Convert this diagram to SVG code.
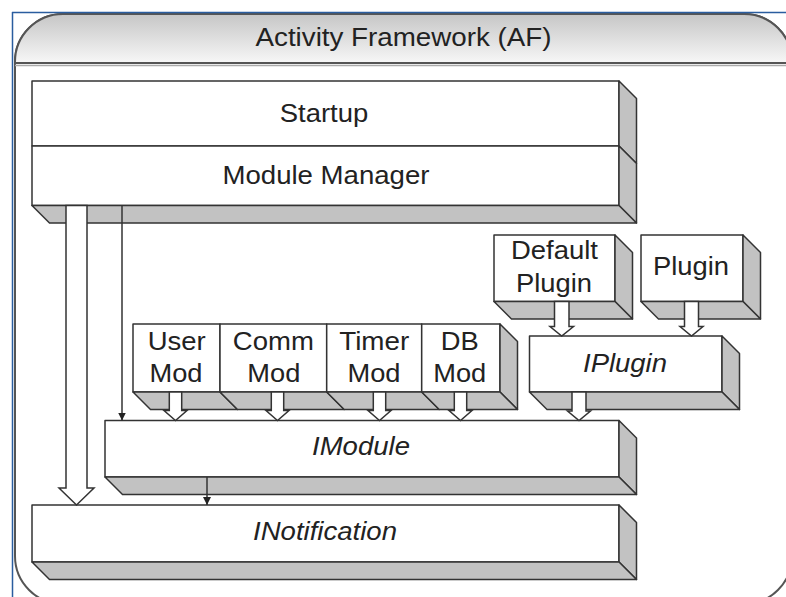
<svg xmlns="http://www.w3.org/2000/svg" width="786" height="597" viewBox="0 0 786 597">
<style>
.t{font-family:"Liberation Sans",Arial,sans-serif;font-size:25px;fill:#222;text-anchor:middle}
.i{font-style:italic}
.front{fill:#fff;stroke:#333;stroke-width:1.5;stroke-linejoin:round}
.side{fill:#c2c2c2;stroke:#333;stroke-width:1.5;stroke-linejoin:round}
.harrow{fill:#fff;stroke:#333;stroke-width:1.5;stroke-linejoin:miter}
.thin{stroke:#333;stroke-width:1.5;fill:none}
.edge{stroke:#333;stroke-width:1.5;fill:none}
</style>
<defs>
<linearGradient id="hdr" x1="0" y1="0" x2="0" y2="1">
<stop offset="0" stop-color="#c6c6c6"/>
<stop offset="1" stop-color="#f7f7f7"/>
</linearGradient>
<marker id="ah" viewBox="0 0 8 8" refX="8" refY="4" markerWidth="8" markerHeight="8" markerUnits="userSpaceOnUse" orient="auto">
<path d="M0,0 L8,4 L0,8 Z" fill="#222"/>
</marker>
</defs>
<rect width="786" height="597" fill="#fff"/>
<g id="frame">
<rect x="15" y="14" width="777" height="590" rx="48" ry="48" fill="#fff" stroke="#555" stroke-width="2"/>
<path d="M15,63 L15,62 A48,48 0 0 1 63,14 L744,14 A48,48 0 0 1 792,62 L792,63 Z" fill="url(#hdr)" stroke="#555" stroke-width="2"/>
<line x1="15" y1="65.5" x2="792" y2="65.5" stroke="#aaa" stroke-width="1.5"/>
<text class="t" x="403.5" y="46" textLength="296" lengthAdjust="spacingAndGlyphs">Activity Framework (AF)</text>
</g>
<g id="startup">
<rect class="front" x="32" y="81" width="587" height="65"/>
<polygon class="side" points="619,81 636.5,98.5 636.5,163.5 619,146"/>
<text class="t" x="324" y="121.5" textLength="88.5" lengthAdjust="spacingAndGlyphs">Startup</text>
</g>
<g id="module-manager">
<rect class="front" x="32" y="146" width="587" height="59.5"/>
<polygon class="side" points="619,146 636.5,163.5 636.5,223 619,205.5"/>
<polygon class="side" points="32,205.5 619,205.5 636.5,223 49.5,223"/>
<text class="t" x="326" y="184" textLength="207" lengthAdjust="spacingAndGlyphs">Module Manager</text>
</g>
<g id="default-plugin">
<rect class="front" x="494" y="235" width="121" height="66.5"/>
<polygon class="side" points="615,235 632.5,252.5 632.5,319 615,301.5"/>
<polygon class="side" points="494,301.5 615,301.5 632.5,319 511.5,319"/>
<text class="t" x="554.5" y="258.5" textLength="87" lengthAdjust="spacingAndGlyphs">Default</text>
<text class="t" x="554" y="291.5" textLength="76" lengthAdjust="spacingAndGlyphs">Plugin</text>
</g>
<g id="plugin">
<rect class="front" x="641" y="235" width="102" height="66.5"/>
<polygon class="side" points="743,235 760.5,252.5 760.5,319 743,301.5"/>
<polygon class="side" points="641,301.5 743,301.5 760.5,319 658.5,319"/>
<text class="t" x="691" y="275" textLength="76" lengthAdjust="spacingAndGlyphs">Plugin</text>
</g>
<g id="iplugin">
<rect class="front" x="529.5" y="336" width="192.5" height="56"/>
<polygon class="side" points="722,336 739.5,353.5 739.5,409.5 722,392"/>
<polygon class="side" points="529.5,392 722,392 739.5,409.5 547,409.5"/>
<text class="t i" x="625" y="371.5" textLength="84" lengthAdjust="spacingAndGlyphs">IPlugin</text>
</g>
<g id="user-mod">
<rect class="front" x="133" y="324" width="87" height="68"/>
<polygon class="side" points="133,392 220,392 237.5,409.5 150.5,409.5"/>
<text class="t" x="176.7" y="349.5" textLength="58" lengthAdjust="spacingAndGlyphs">User</text>
<text class="t" x="176" y="381.5" textLength="53" lengthAdjust="spacingAndGlyphs">Mod</text>
</g>
<g id="comm-mod">
<rect class="front" x="220" y="324" width="106.7" height="68"/>
<polygon class="side" points="220,392 326.7,392 344.2,409.5 237.5,409.5"/>
<text class="t" x="273.3" y="349.5" textLength="81" lengthAdjust="spacingAndGlyphs">Comm</text>
<text class="t" x="273.8" y="381.5" textLength="53" lengthAdjust="spacingAndGlyphs">Mod</text>
</g>
<g id="timer-mod">
<rect class="front" x="326.7" y="324" width="95" height="68"/>
<polygon class="side" points="326.7,392 421.7,392 439.2,409.5 344.2,409.5"/>
<text class="t" x="374.2" y="349.5" textLength="70" lengthAdjust="spacingAndGlyphs">Timer</text>
<text class="t" x="374" y="381.5" textLength="53" lengthAdjust="spacingAndGlyphs">Mod</text>
</g>
<g id="db-mod">
<rect class="front" x="421.7" y="324" width="78.3" height="68"/>
<polygon class="side" points="500,324 517.5,341.5 517.5,409.5 500,392"/>
<polygon class="side" points="421.7,392 500,392 517.5,409.5 439.2,409.5"/>
<text class="t" x="459.7" y="349.5" textLength="38" lengthAdjust="spacingAndGlyphs">DB</text>
<text class="t" x="459.7" y="381.5" textLength="53" lengthAdjust="spacingAndGlyphs">Mod</text>
</g>
<g id="imodule">
<rect class="front" x="105" y="420.5" width="514" height="56.5"/>
<polygon class="side" points="619,420.5 636.5,438 636.5,494.5 619,477"/>
<polygon class="side" points="105,477 619,477 636.5,494.5 122.5,494.5"/>
<text class="t i" x="361" y="455" textLength="98" lengthAdjust="spacingAndGlyphs">IModule</text>
</g>
<g id="inotification">
<rect class="front" x="32" y="505" width="587" height="57"/>
<polygon class="side" points="619,505 636.5,522.5 636.5,579.5 619,562"/>
<polygon class="side" points="32,562 619,562 636.5,579.5 49.5,579.5"/>
<text class="t i" x="325" y="540" textLength="144" lengthAdjust="spacingAndGlyphs">INotification</text>
</g>
<g id="connectors">
<polygon class="harrow" points="66,205.5 87,205.5 87,488 94,488 76.5,505 59,488 66,488"/>
<line class="thin" x1="122" y1="205.5" x2="122" y2="420.5" marker-end="url(#ah)"/>
<line class="thin" x1="207" y1="477" x2="207" y2="505" marker-end="url(#ah)"/>
<polygon class="harrow" points="169.3,392 181.7,392 181.7,410.5 187,410.5 175.5,420.5 164,410.5 169.3,410.5"/>
<polygon class="harrow" points="271.3,392 283.7,392 283.7,410.5 289,410.5 277.5,420.5 266,410.5 271.3,410.5"/>
<polygon class="harrow" points="373.3,392 385.7,392 385.7,410.5 391,410.5 379.5,420.5 368,410.5 373.3,410.5"/>
<polygon class="harrow" points="454.3,392 466.7,392 466.7,410.5 472,410.5 460.5,420.5 449,410.5 454.3,410.5"/>
<polygon class="harrow" points="572,392 586,392 586,411 590.5,411 579,420.5 567.5,411 572,411"/>
<polygon class="harrow" points="554.5,301.5 569,301.5 569,326.5 573.5,326.5 561.7,336 550,326.5 554.5,326.5"/>
<polygon class="harrow" points="684.5,301.5 698.5,301.5 698.5,326.5 703,326.5 691.5,336 680,326.5 684.5,326.5"/>
</g>
<g id="border">
<line x1="12" y1="12.5" x2="786" y2="12.5" stroke="#2a5d9f" stroke-width="1.5"/>
<line x1="12.5" y1="12" x2="12.5" y2="597" stroke="#2a5d9f" stroke-width="1.5"/>
</g>
</svg>
